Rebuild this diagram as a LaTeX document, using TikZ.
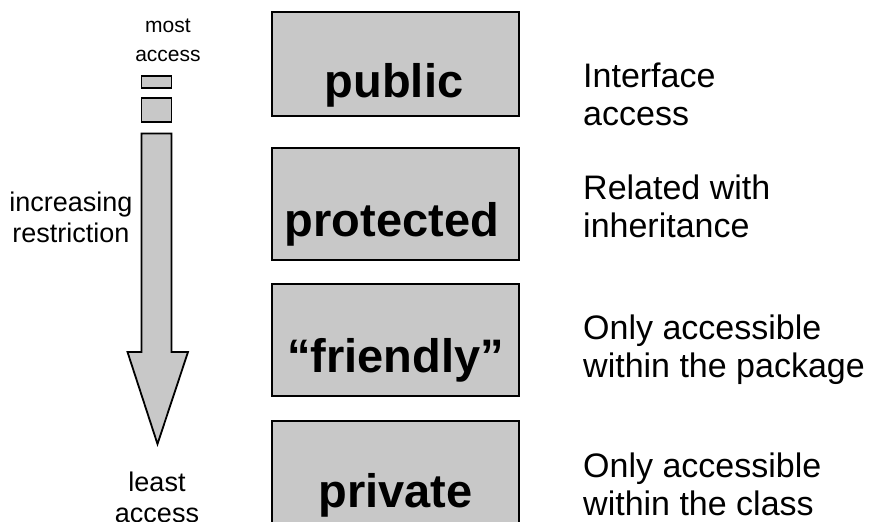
\documentclass[tikz,border=0pt]{standalone}
\usepackage{fontspec}
\setmainfont{Liberation Sans}
\begin{document}
\begin{tikzpicture}[x=1pt,y=-1pt,
  accbox/.style={draw=black,fill=boxgray,line width=2.6pt},
  accname/.style={anchor=base,inner sep=0pt,font=\fontsize{47}{52}\selectfont\bfseries},
  note/.style={anchor=north west,inner sep=0pt,align=left,font=\fontsize{34}{38}\selectfont},
  side/.style={inner sep=0pt,align=center,font=\fontsize{27}{31}\selectfont}]
\definecolor{boxgray}{RGB}{200,200,200}
\useasboundingbox (0,0) rectangle (870,522);

% access level boxes
\draw[accbox] (272,12) rectangle (519,116);
\draw[accbox] (272,148) rectangle (519,260);
\draw[accbox] (272,284) rectangle (519,396);
\draw[accbox] (272,421) rectangle (519,540);
\node[accname] (pub) at (394,97) {public};
\node[accname] (prot) at (392,236) {protected};
\node[accname] (fri) at (395.5,372) {“friendly”};
\node[accname] (priv) at (395.5,507) {private};

% descriptions
\node[note] (d1) at (583,63) {Interface\\access};
\node[note] (d2) at (583,175) {Related with\\inheritance};
\node[note] (d3) at (583,315) {Only accessible\\within the package};
\node[note] (d4) at (583,453) {Only accessible\\within the class};

% restriction arrow
\draw[fill=boxgray,line width=1.8pt] (141.5,76) rectangle (171.5,88);
\draw[fill=boxgray,line width=1.8pt] (141.5,98) rectangle (171.5,122);
\draw[fill=boxgray,line width=1.8pt,line join=miter]
  (141.5,133.5) -- (171.5,133.5) -- (171.5,352) -- (188,352)
  -- (157.5,444) -- (127.5,352) -- (141.5,352) -- cycle;

\node[side,font=\fontsize{21}{29}\selectfont] (most) at (168,40) {most\\access};
\node[side] (incr) at (71,217) {increasing\\restriction};
\node[side] (least) at (157,497) {least\\access};
\end{tikzpicture}
\end{document}
